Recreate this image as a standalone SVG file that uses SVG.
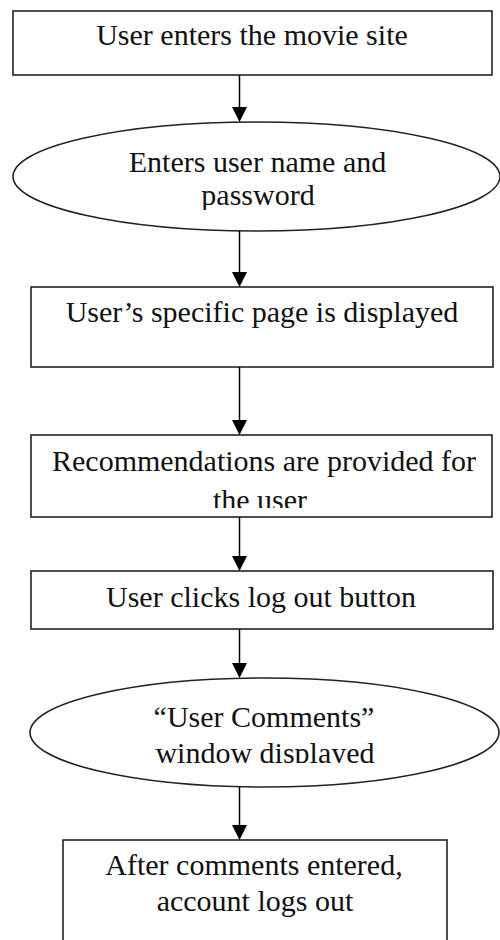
<svg xmlns="http://www.w3.org/2000/svg" width="500" height="940" viewBox="0 0 500 940">
<style>
.shape{fill:#fff;stroke:#222;stroke-width:1.6}
.lbl{font-family:"Liberation Serif","Times New Roman",serif;font-size:30px;fill:#111;text-anchor:middle}
.conn line{stroke:#000;stroke-width:1.5}
.conn polygon{fill:#000}
</style>
<defs>
<clipPath id="c2"><rect x="0" y="120" width="500" height="90"/></clipPath>
<clipPath id="c4"><rect x="0" y="436" width="500" height="72"/></clipPath>
<clipPath id="c6"><rect x="0" y="680" width="500" height="83"/></clipPath>
</defs>
<rect width="500" height="940" fill="#fff"/>
<g id="n1">
<rect class="shape" x="13" y="11" width="479" height="64"/>
<text class="lbl" x="252" y="45">User enters the movie site</text>
</g>
<g id="n2">
<ellipse class="shape" cx="256.5" cy="176.5" rx="243.5" ry="54.5"/>
<g clip-path="url(#c2)">
<text class="lbl" x="257.5" y="172">Enters user name and</text>
<text class="lbl" x="258" y="205">password</text>
</g>
</g>
<g id="n3">
<rect class="shape" x="31" y="287" width="462" height="80"/>
<text class="lbl" x="262" y="322">User’s specific page is displayed</text>
</g>
<g id="n4">
<rect class="shape" x="31" y="435" width="461" height="82"/>
<g clip-path="url(#c4)">
<text class="lbl" x="264" y="471">Recommendations are provided for</text>
<text class="lbl" x="260" y="510">the user</text>
</g>
</g>
<g id="n5">
<rect class="shape" x="31" y="571" width="462" height="58"/>
<text class="lbl" x="261" y="607">User clicks log out button</text>
</g>
<g id="n6">
<ellipse class="shape" cx="264.5" cy="732.5" rx="234.5" ry="54.5"/>
<g clip-path="url(#c6)">
<text class="lbl" x="264" y="727">“User Comments”</text>
<text class="lbl" x="265" y="763">window displayed</text>
</g>
</g>
<g id="n7">
<rect class="shape" x="63" y="840" width="384" height="120"/>
<text class="lbl" x="254" y="875">After comments entered,</text>
<text class="lbl" x="255" y="911">account logs out</text>
</g>
<g id="connectors" class="conn">
<line x1="239.5" y1="75" x2="239.5" y2="108"/><polygon points="232,107 247,107 239.5,122"/>
<line x1="239.5" y1="231" x2="239.5" y2="273"/><polygon points="232,272 247,272 239.5,287"/>
<line x1="239.5" y1="367" x2="239.5" y2="421"/><polygon points="232,420 247,420 239.5,435"/>
<line x1="239.5" y1="517" x2="239.5" y2="557"/><polygon points="232,556 247,556 239.5,571"/>
<line x1="239.5" y1="629" x2="239.5" y2="664"/><polygon points="232,663 247,663 239.5,678"/>
<line x1="239.5" y1="787" x2="239.5" y2="826"/><polygon points="232,825 247,825 239.5,840"/>
</g>
</svg>
